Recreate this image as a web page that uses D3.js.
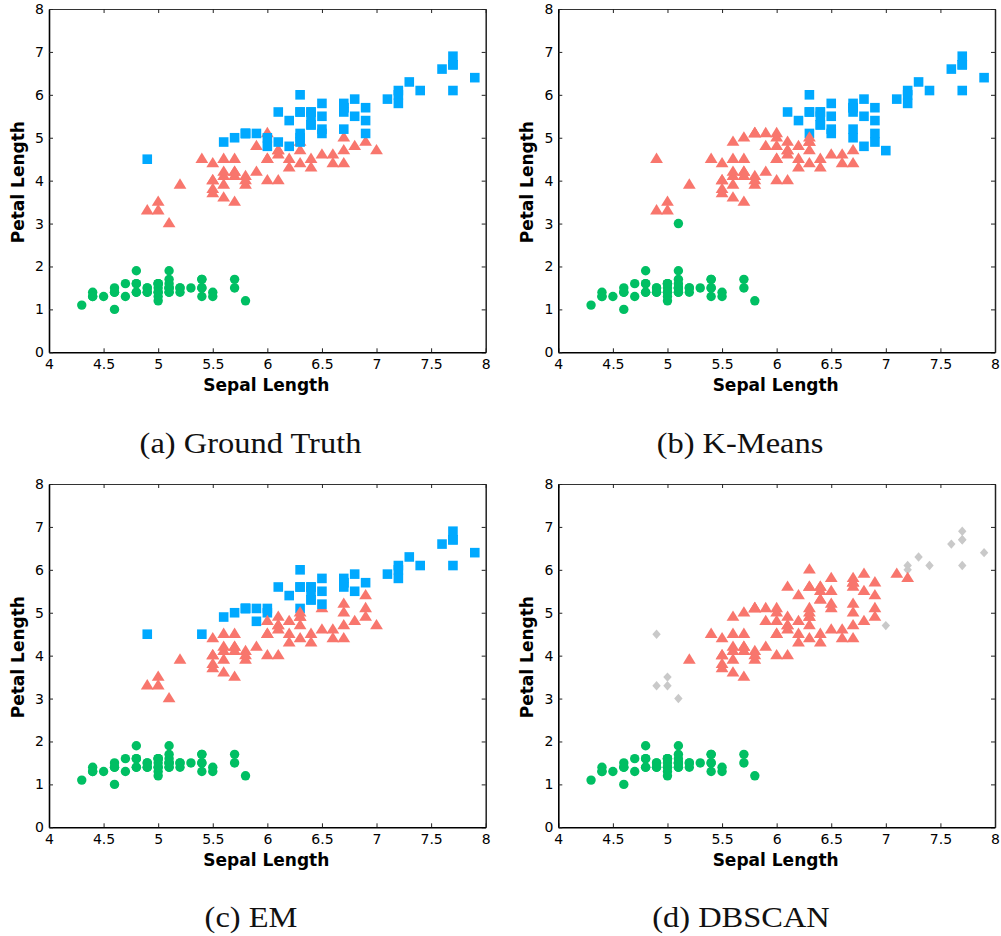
<!DOCTYPE html>
<html><head><meta charset="utf-8">
<script src="https://cdn.jsdelivr.net/npm/d3@7"></script>
<style>body{margin:0;background:#fff}</style>
</head><body>
<svg id="c" width="1001" height="936"></svg>
<script>
// Iris: sepal length / petal length (setosa, versicolor, virginica)
const sepalLength = [
5.1,4.9,4.7,4.6,5.0,5.4,4.6,5.0,4.4,4.9,5.4,4.8,4.8,4.3,5.8,5.7,5.4,5.1,5.7,5.1,5.4,5.1,4.6,5.1,4.8,5.0,5.0,5.2,5.2,4.7,4.8,5.4,5.2,5.5,4.9,5.0,5.5,4.9,4.4,5.1,5.0,4.5,4.4,5.0,5.1,4.8,5.1,4.6,5.3,5.0,
7.0,6.4,6.9,5.5,6.5,5.7,6.3,4.9,6.6,5.2,5.0,5.9,6.0,6.1,5.6,6.7,5.6,5.8,6.2,5.6,5.9,6.1,6.3,6.1,6.4,6.6,6.8,6.7,6.0,5.7,5.5,5.5,5.8,6.0,5.4,6.0,6.7,6.3,5.6,5.5,5.5,6.1,5.8,5.0,5.6,5.7,5.7,6.2,5.1,5.7,
6.3,5.8,7.1,6.3,6.5,7.6,4.9,7.3,6.7,7.2,6.5,6.4,6.8,5.7,5.8,6.4,6.5,7.7,7.7,6.0,6.9,5.6,7.7,6.3,6.7,7.2,6.2,6.1,6.4,7.2,7.4,7.9,6.4,6.3,6.1,7.7,6.3,6.4,6.0,6.9,6.7,6.9,5.8,6.8,6.7,6.7,6.3,6.5,6.2,5.9];
const petalLength = [
1.4,1.4,1.3,1.5,1.4,1.7,1.4,1.5,1.4,1.5,1.5,1.6,1.4,1.1,1.2,1.5,1.3,1.4,1.7,1.5,1.7,1.5,1.0,1.7,1.9,1.6,1.6,1.5,1.4,1.6,1.6,1.5,1.5,1.4,1.5,1.2,1.3,1.4,1.3,1.5,1.3,1.3,1.3,1.6,1.9,1.4,1.6,1.4,1.5,1.4,
4.7,4.5,4.9,4.0,4.6,4.5,4.7,3.3,4.6,3.9,3.5,4.2,4.0,4.7,3.6,4.4,4.5,4.1,4.5,3.9,4.8,4.0,4.9,4.7,4.3,4.4,4.8,5.0,4.5,3.5,3.8,3.7,3.9,5.1,4.5,4.5,4.7,4.4,4.1,4.0,4.4,4.6,4.0,3.3,4.2,4.2,4.2,4.3,3.0,4.1,
6.0,5.1,5.9,5.6,5.8,6.6,4.5,6.3,5.8,6.1,5.1,5.3,5.5,5.0,5.1,5.3,5.5,6.7,6.9,5.0,5.7,4.9,6.7,4.9,5.7,6.0,4.8,4.9,5.6,5.8,6.1,6.4,5.6,5.1,5.6,6.1,5.6,5.5,4.8,5.4,5.6,5.1,5.1,5.9,5.7,5.2,5.0,5.2,5.4,5.1];

// cluster labels: 0 = circle (green), 1 = triangle (red), 2 = square (blue), 3 = noise diamond (gray)
const groundTruth = [
0,0,0,0,0,0,0,0,0,0,0,0,0,0,0,0,0,0,0,0,0,0,0,0,0,0,0,0,0,0,0,0,0,0,0,0,0,0,0,0,0,0,0,0,0,0,0,0,0,0,
1,1,1,1,1,1,1,1,1,1,1,1,1,1,1,1,1,1,1,1,1,1,1,1,1,1,1,1,1,1,1,1,1,1,1,1,1,1,1,1,1,1,1,1,1,1,1,1,1,1,
2,2,2,2,2,2,2,2,2,2,2,2,2,2,2,2,2,2,2,2,2,2,2,2,2,2,2,2,2,2,2,2,2,2,2,2,2,2,2,2,2,2,2,2,2,2,2,2,2,2];
const kMeans = [
0,0,0,0,0,0,0,0,0,0,0,0,0,0,0,0,0,0,0,0,0,0,0,0,0,0,0,0,0,0,0,0,0,0,0,0,0,0,0,0,0,0,0,0,0,0,0,0,0,0,
2,1,2,1,1,1,1,1,1,1,1,1,1,1,1,1,1,1,1,1,1,1,1,1,1,1,2,2,1,1,1,1,1,1,1,1,1,1,1,1,1,1,1,1,1,1,1,1,0,1,
2,1,2,2,2,2,1,2,2,2,2,2,2,1,1,2,2,2,2,1,2,1,2,1,2,2,1,1,2,2,2,2,2,2,2,2,2,2,1,2,2,2,1,2,2,2,1,2,2,1];
const em = [
0,0,0,0,0,0,0,0,0,0,0,0,0,0,0,0,0,0,0,0,0,0,0,0,0,0,0,0,0,0,0,0,0,0,0,0,0,0,0,0,0,0,0,0,0,0,0,0,0,0,
1,1,1,1,1,1,1,1,1,1,1,1,1,1,1,1,1,1,1,1,2,1,1,1,1,1,1,1,1,1,1,1,1,2,2,1,1,1,1,1,1,1,1,1,1,1,1,1,1,1,
2,2,2,2,2,2,2,2,2,2,1,2,2,2,2,2,2,2,2,2,2,2,2,1,2,2,1,1,2,2,2,2,2,2,2,2,2,2,1,1,2,1,2,2,2,1,1,2,2,2];
const dbscan = [
0,0,0,0,0,0,0,0,0,0,0,0,0,0,0,0,0,0,0,0,0,0,0,0,0,0,0,0,0,0,0,0,0,0,0,0,0,0,0,0,0,0,0,0,0,0,0,0,0,0,
3,1,1,1,1,1,1,3,1,1,3,1,1,1,1,1,1,1,1,1,1,1,1,1,1,1,1,1,1,1,1,1,1,1,1,1,1,1,1,1,1,1,1,3,1,1,1,1,3,1,
1,1,1,1,1,3,3,3,1,3,1,1,1,1,1,1,1,3,3,1,1,1,3,1,1,3,1,1,1,1,3,3,1,1,1,3,1,1,1,1,1,1,1,1,1,1,1,1,1,1];

const xTicks = [4,4.5,5,5.5,6,6.5,7,7.5,8];
const yTicks = [0,1,2,3,4,5,6,7,8];
const captions = ["(a) Ground Truth","(b) K-Means","(c) EM","(d) DBSCAN"];
const xLabel = "Sepal Length", yLabel = "Petal Length";

const colors = ["#00BF63","#F8766D","#00A9FF","#C9C9C9"];
const svg = d3.select("#c");
const W = 436.7, H = 343.3;
const layout = [
  {x0:49, y0:9, cx:250.5, cy:453},
  {x0:558.3, y0:9, cx:740, cy:453},
  {x0:49, y0:484, cx:251, cy:927},
  {x0:558.3, y0:484, cx:741, cy:927}
];
const labelSets = [groundTruth, kMeans, em, dbscan];

function marker(k, cx, cy){
  if(k===0){ return d3.arc()({innerRadius:0,outerRadius:4.7,startAngle:0,endAngle:2*Math.PI}); }
  if(k===1){ return `M0,-6.6L6.4,3.7L-6.4,3.7Z`; }
  if(k===2){ return `M-4.8,-4.8H4.8V4.8H-4.8Z`; }
  return `M0,-4.7L4.2,0L0,4.7L-4.2,0Z`;
}

layout.forEach((L,i)=>{
  const g = svg.append("g");
  const x = d3.scaleLinear().domain([4,8]).range([L.x0, L.x0+W]);
  const y = d3.scaleLinear().domain([0,8]).range([L.y0+H, L.y0]);
  const fmt = d3.format("");
  const style = sel => { sel.attr("font-family","'DejaVu Sans', sans-serif").attr("font-size",14);
    sel.selectAll("text").attr("fill","#000"); sel.selectAll("line").attr("stroke","#222"); };
  // top & right (no labels)
  g.append("g").attr("transform",`translate(0,${L.y0})`)
    .call(d3.axisTop(x).tickValues(xTicks).tickFormat(()=>"" ).tickSizeInner(-4).tickSizeOuter(0))
    .call(style).select(".domain").attr("stroke","#333").attr("stroke-width",1.2);
  g.append("g").attr("transform",`translate(${L.x0+W},0)`)
    .call(d3.axisRight(y).tickValues(yTicks).tickFormat(()=>"" ).tickSizeInner(-4).tickSizeOuter(0))
    .call(style).select(".domain").attr("stroke","#222").attr("stroke-width",1.5);
  g.append("g").attr("transform",`translate(0,${L.y0+H})`)
    .call(d3.axisBottom(x).tickValues(xTicks).tickFormat(fmt).tickSizeInner(-4).tickSizeOuter(0).tickPadding(7))
    .call(style).select(".domain").attr("stroke","#000").attr("stroke-width",1.6);
  g.append("g").attr("transform",`translate(${L.x0},0)`)
    .call(d3.axisLeft(y).tickValues(yTicks).tickFormat(fmt).tickSizeInner(-4).tickSizeOuter(0).tickPadding(5))
    .call(style).select(".domain").attr("stroke","#000").attr("stroke-width",1.6);

  // axis labels
  g.append("text").attr("x", L.x0+W/2-1).attr("y", L.y0+H+38.7)
    .attr("text-anchor","middle").attr("font-family","'DejaVu Sans', sans-serif")
    .attr("font-weight","bold").attr("font-size",17).text(xLabel);
  g.append("text").attr("transform",`translate(${L.x0-25},${L.y0+H/2+1.5}) rotate(-90)`)
    .attr("text-anchor","middle").attr("font-family","'DejaVu Sans', sans-serif")
    .attr("font-weight","bold").attr("font-size",17).text(yLabel);

  // points
  const labels = labelSets[i];
  const pts = sepalLength.map((s,j)=>({s, p:petalLength[j], k:labels[j]}));
  g.append("g").selectAll("path").data(pts).join("path")
    .attr("transform", d=>`translate(${x(d.s)},${y(d.p)})`)
    .attr("d", d=>marker(d.k))
    .attr("fill", d=>colors[d.k]);

  // caption
  svg.append("text").attr("transform",`translate(${L.cx},${L.cy}) scale(1.12,1)`)
    .attr("text-anchor","middle").attr("font-family","'Liberation Serif', serif")
    .attr("font-size",29).attr("fill","#111").text(captions[i]);
});
</script>
</body></html>
